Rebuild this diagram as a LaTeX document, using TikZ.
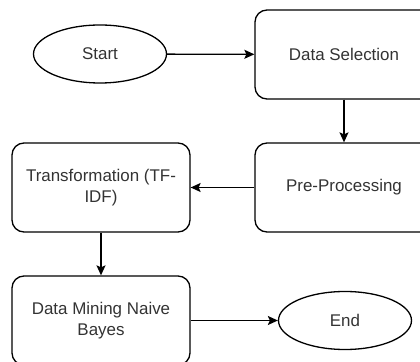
\documentclass[tikz,border=0pt]{standalone}
\usepackage{fontspec}
\setmainfont{Liberation Sans}
\usetikzlibrary{shapes.geometric,arrows.meta}
\definecolor{labelcol}{rgb}{0.2,0.2,0.2}
\begin{document}
\begin{tikzpicture}[>={Stealth[length=10bp,width=9bp,inset=2bp]},line join=bevel,x=1bp,y=1bp,
  stepbox/.style={draw,rounded corners=12bp,minimum width=178bp,minimum height=89bp,
    inner sep=0pt,align=center,text=labelcol,font=\fontsize{17}{21}\selectfont},
  terminal/.style={draw,ellipse,minimum width=133bp,minimum height=58bp,
    inner sep=0pt,text=labelcol,font=\fontsize{17}{21}\selectfont}]
  \pgfsetlinewidth{1.3bp}
  \useasboundingbox (0bp,0bp) rectangle (420bp,362bp);
  \clip (0bp,0bp) rectangle (420bp,362bp);
%%
  % Node: start
  \node [terminal] (start) at (100bp,308bp) {Start};
  % Node: selection
  \node [stepbox] (selection) at (344bp,307.5bp) {Data Selection};
  % Node: preproc
  \node [stepbox] (preproc) at (344bp,174.5bp) {Pre-Processing};
  % Node: transform
  \node [stepbox] (transform) at (101bp,174.5bp) {Transformation (TF-\\IDF)};
  % Node: mining
  \node [stepbox] (mining) at (101bp,41.5bp) {Data Mining Naive\\Bayes};
  % Node: finish
  \node [terminal] (finish) at (345bp,41.5bp) {End};
%%
  % Edge: start -> selection
  \draw [->] (start) -- (selection);
  % Edge: selection -> preproc
  \draw [->] (selection) -- (preproc);
  % Edge: preproc -> transform
  \draw [->] (preproc) -- (transform);
  % Edge: transform -> mining
  \draw [->] (transform) -- (mining);
  % Edge: mining -> finish
  \draw [->] (mining) -- (finish);
%
\end{tikzpicture}
\end{document}
